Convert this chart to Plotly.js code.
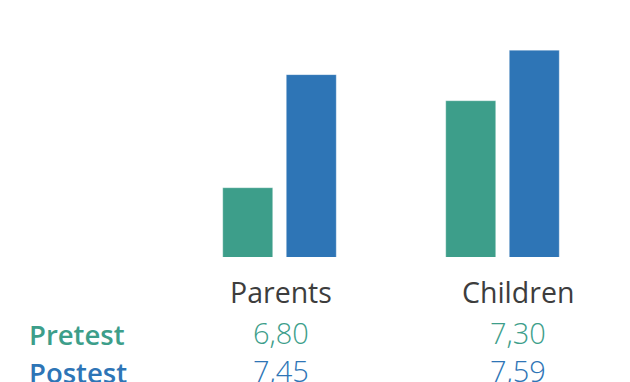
<!DOCTYPE html>
<html>
<head>
<meta charset="utf-8">
<script src="https://cdn.plot.ly/plotly-3.0.1.min.js"></script>
<style>html,body{margin:0;padding:0;background:#fff;}#chart{width:630px;height:382px;}</style>
</head>
<body>
<div id="chart"></div>
<script>
const categories = ['Parents', 'Children'];
const seriesNames = ['Pretest', 'Postest'];
const pretest = [6.80, 7.30];
const postest = [7.45, 7.59];
const seriesColors = ['#3d9e8a', '#2e75b6'];

const fmt = v => v.toFixed(2).replace('.', ',');
const seriesValues = [pretest, postest];

const traces = seriesValues.map((vals, i) => ({
  type: 'bar',
  name: seriesNames[i],
  x: categories,
  y: vals,
  marker: { color: seriesColors[i], line: { width: 0.6, color: 'rgba(255,255,255,0.5)' } },
  hoverinfo: 'x+y'
}));

const FONT = 'Open Sans, Segoe UI, Noto Sans, sans-serif';
const plotBottom = 257.3;
const annotations = [];
// category header row
categories.forEach(c => annotations.push({
  xref: 'x2', yref: 'paper', x: c, y: 0, yshift: -(292 - plotBottom),
  text: c, showarrow: false, xanchor: 'center', yanchor: 'middle',
  font: { family: FONT, size: 28.5, color: '#3d3d3d', weight: 400 }
}));
const rowCenters = [332.5, 371];
seriesValues.forEach((vals, i) => {
  annotations.push({
    xref: 'paper', yref: 'paper', x: (27 - 168) / 446, y: 0, yshift: -(rowCenters[i] + 2 - plotBottom),
    text: seriesNames[i], showarrow: false, xanchor: 'left', yanchor: 'middle',
    font: { family: FONT, size: 27.5, color: seriesColors[i], weight: 600 }
  });
  vals.forEach((v, j) => annotations.push({
    xref: 'x2', yref: 'paper', x: categories[j], y: 0, yshift: -(rowCenters[i] - plotBottom),
    text: fmt(v), showarrow: false, xanchor: 'center', yanchor: 'middle',
    font: { family: FONT, size: 29, color: seriesColors[i], weight: 300 }
  }));
});

const layout = {
  width: 630, height: 382,
  margin: { l: 168, r: 16, t: 20, b: 382 - plotBottom },
  paper_bgcolor: '#ffffff', plot_bgcolor: '#ffffff',
  showlegend: false,
  barmode: 'group', bargap: 0.43, bargroupgap: 0.214,
  xaxis: { type: 'category', categoryarray: categories, range: [-0.5, 1.5], visible: false, fixedrange: true },
  xaxis2: { type: 'category', categoryarray: categories, overlaying: 'x', anchor: 'y', range: [-0.477, 1.405], visible: false },
  yaxis: { range: [6.402, 7.764], visible: false, fixedrange: true },
  annotations: annotations
};

Plotly.newPlot('chart', traces, layout, { displayModeBar: false, staticPlot: true });
</script>
</body>
</html>
